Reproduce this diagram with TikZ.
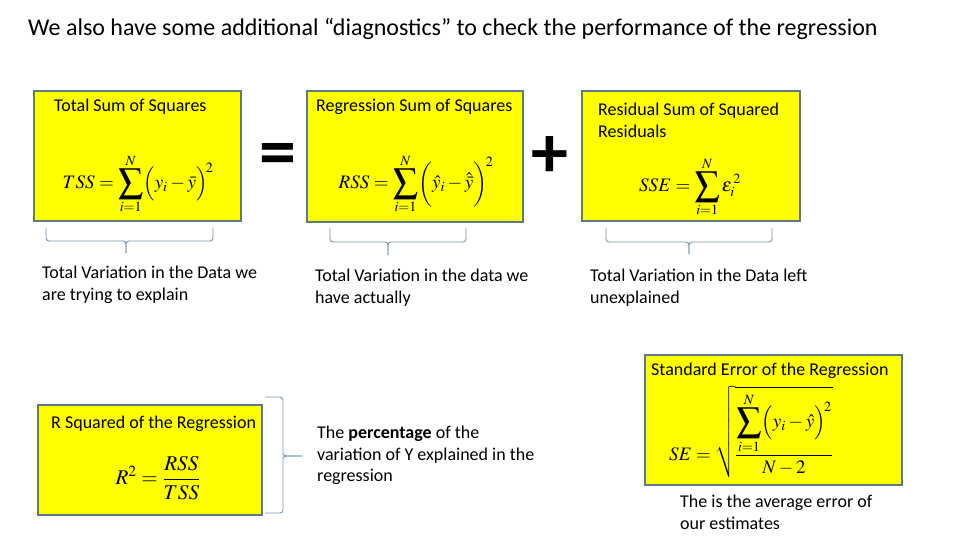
\documentclass[tikz,border=0pt]{standalone}
\usepackage{mathptmx}
\usepackage{fontspec}
\setmainfont{Carlito}
\usetikzlibrary{calc}
\definecolor{boxyellow}{RGB}{255,255,0}
\definecolor{boxedge}{RGB}{92,122,135}
\definecolor{bracecol}{RGB}{120,150,172}
\newcommand{\bigsumx}{\mathop{\vcenter{\hbox{\scalebox{1.3}{$\displaystyle\sum$}}}}\limits}
\begin{document}
\begin{tikzpicture}[x=1pt,y=-1pt,
  box/.style={draw=boxedge, line width=1.6pt, fill=boxyellow, anchor=north west, inner sep=0pt, outer sep=0pt},
  lbl/.style={anchor=north west, font=\fontsize{18}{21.5}\selectfont, inner sep=0pt, align=left},
  ttl/.style={anchor=north west, font=\fontsize{24}{28}\selectfont, inner sep=0pt},
  fml/.style={inner sep=0pt, font=\fontsize{19}{23}\selectfont},
  sign/.style={inner sep=0pt, font=\fontsize{74}{76}\selectfont\bfseries},
  bracepath/.style={draw=bracecol, line width=0.9pt, rounded corners=3pt}]
\useasboundingbox (0,0) rectangle (960,540);
\fill[white] (0,0) rectangle (960,540);

% title
\node[ttl] (title) at (28,18) {We also have some additional “diagnostics” to check the performance of the regression};

% top boxes
\node[box, minimum width=207pt, minimum height=130pt] (tss) at (34,91) {};
\node[box, minimum width=216pt, minimum height=131pt] (rss) at (307,91) {};
\node[box, minimum width=218pt, minimum height=130pt] (sse) at (582,91) {};

\node[lbl] (tsst) at (54,99) {Total Sum of Squares};
\node[lbl] (rsst) at (316,99) {Regression Sum of Squares};
\node[lbl] (sset) at (598,103) {Residual Sum of Squared\\Residuals};

\node[fml] (tssf) at (138,184) {$\displaystyle TSS=\bigsumx_{i=1}^{N}\Bigl(y_i-\bar{y}\Bigr)^{\!2}$};
\node[fml] (rssf) at (416,184) {$\displaystyle RSS=\bigsumx_{i=1}^{N}\biggl(\hat{y}_i-\hat{\bar{y}}\biggr)^{\!2}$};
\node[fml] (ssef) at (690,187) {$\displaystyle SSE=\bigsumx_{i=1}^{N}\varepsilon_i^{\,2}$};

\node[sign] (eq) at (278,160) {=};
\node[sign] (plus) at (550,157) {+};

% braces under top boxes
\coordinate (b1tip) at (126,253);
\coordinate (b2tip) at (388,255);
\coordinate (b3tip) at (689,254);
\draw[bracepath] (46,228) -- (46,241) -- (b1tip |- 0,241) -- (b1tip);
\draw[bracepath] (213,228) -- (213,241) -- (b1tip |- 0,241) -- (b1tip);
\draw[bracepath] (330,228) -- (330,242) -- (b2tip |- 0,242) -- (b2tip);
\draw[bracepath] (466,228) -- (466,242) -- (b2tip |- 0,242) -- (b2tip);
\draw[bracepath] (606,228) -- (606,242) -- (b3tip |- 0,242) -- (b3tip);
\draw[bracepath] (772,228) -- (772,242) -- (b3tip |- 0,242) -- (b3tip);

\node[lbl] (tssl) at (42,266) {Total Variation in the Data we\\are trying to explain};
\node[lbl] (rssl) at (315,269) {Total Variation in the data we\\have actually};
\node[lbl] (ssel) at (590,269) {Total Variation in the Data left\\unexplained};

% standard error box
\node[box, minimum width=257pt, minimum height=130pt] (se) at (645,355) {};
\node[lbl] (set) at (651,363) {Standard Error of the Regression};
\node[fml] (sef) at (751,432) {$\displaystyle SE=\sqrt{\frac{\displaystyle\bigsumx_{i=1}^{N}\Bigl(y_i-\hat{y}\Bigr)^{\!2}}{N-2}}$};
\node[lbl] (sel) at (680,495) {The is the average error of\\our estimates};

% R squared box
\node[box, minimum width=224pt, minimum height=110pt] (r2) at (38,405) {};
\node[lbl] (r2t) at (51,416) {R Squared of the Regression};
\node[fml, font=\fontsize{21}{25}\selectfont] (r2f) at (158,478) {$\displaystyle R^2=\frac{RSS}{TSS}$};
\node[lbl] (r2l) at (317,426) {The \textbf{percentage} of the\\variation of Y explained in the\\regression};

% right brace
\coordinate (rbtip) at (302,456);
\draw[bracepath] (265,397) -- (283,397) -- (283,456) -- (rbtip);
\draw[bracepath] (265,513) -- (283,513) -- (283,456) -- (rbtip);
\end{tikzpicture}
\end{document}
